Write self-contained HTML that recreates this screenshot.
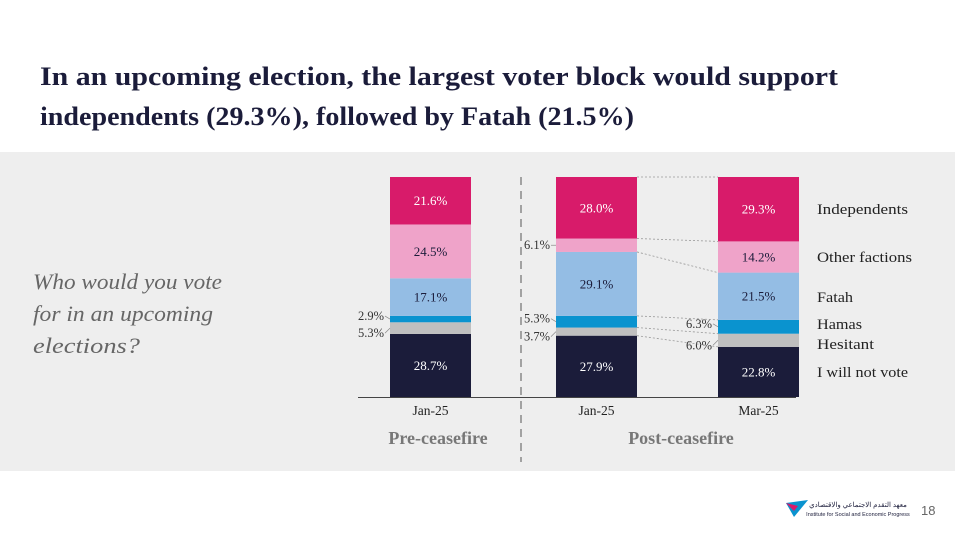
<!DOCTYPE html>
<html><head><meta charset="utf-8"><style>
html,body{margin:0;padding:0;background:#fff;}
svg{display:block;font-family:"Liberation Serif",serif;}
</style></head><body>
<svg width="955" height="537" viewBox="0 0 955 537" xmlns="http://www.w3.org/2000/svg">
<text x="40" y="85" font-size="26" font-weight="bold" fill="#1b1c3a" textLength="798" lengthAdjust="spacingAndGlyphs">In an upcoming election, the largest voter block would support</text>
<text x="40" y="125" font-size="26" font-weight="bold" fill="#1b1c3a" textLength="594" lengthAdjust="spacingAndGlyphs">independents (29.3%), followed by Fatah (21.5%)</text>
<rect x="0" y="152" width="955" height="319" fill="#eeeeee"/>
<g font-style="italic" font-size="22.5" fill="#666">
<text x="33" y="289" textLength="189" lengthAdjust="spacingAndGlyphs">Who would you vote</text>
<text x="33" y="321" textLength="180" lengthAdjust="spacingAndGlyphs">for in an upcoming</text>
<text x="33" y="353" textLength="107" lengthAdjust="spacingAndGlyphs">elections?</text>
</g>
<line x1="521" y1="177" x2="521" y2="462" stroke="#888" stroke-width="1.5" stroke-dasharray="8,6"/>
<g id="bars"></g>
<line x1="358" y1="397.5" x2="796" y2="397.5" stroke="#444" stroke-width="1"/>
<g id="labels"></g>
<text x="438" y="444" text-anchor="middle" font-size="18" font-weight="bold" fill="#777">Pre-ceasefire</text>
<text x="681" y="444" text-anchor="middle" font-size="18" font-weight="bold" fill="#777">Post-ceasefire</text>
<g>
<polygon points="786,503 808,500 794,517" fill="#0a93cf"/>
<polygon points="786,503 798,506 794,511" fill="#d81b6a"/>
<text x="858" y="507" text-anchor="middle" font-size="7" font-family="'Liberation Sans',sans-serif" fill="#1b1c3a">معهد التقدم الاجتماعي والاقتصادي</text>
<text x="858" y="516" text-anchor="middle" font-size="5.5" font-family="'Liberation Sans',sans-serif" fill="#1b1c3a">Institute for Social and Economic Progress</text>
</g>
<text x="921" y="515" font-size="13" font-family="'Liberation Sans',sans-serif" fill="#666">18</text>
</svg>
<script>
const categories = ["Jan-25", "Jan-25", "Mar-25"];
const seriesNames = ["I will not vote", "Hesitant", "Hamas", "Fatah", "Other factions", "Independents"];
const notVote = [28.7, 27.9, 22.8];
const hesitant = [5.3, 3.7, 6.0];
const hamas = [2.9, 5.3, 6.3];
const fatah = [17.1, 29.1, 21.5];
const otherFactions = [24.5, 6.1, 14.2];
const independents = [21.6, 28.0, 29.3];

const series = [notVote, hesitant, hamas, fatah, otherFactions, independents];
const colors = ["#1b1c3a", "#bfbfbf", "#0a93cf", "#94bde4", "#efa3c9", "#d81b6a"];
const textColors = ["#fff", "#333", "#fff", "#1b1c3a", "#1b1c3a", "#fff"];
const barX = [390, 556, 718], barW = 81, base = 397, plotH = 220;
const NS = "http://www.w3.org/2000/svg";
const gB = document.getElementById("bars"), gL = document.getElementById("labels");
function mk(tag, attrs, parent){const e=document.createElementNS(NS,tag);for(const k in attrs)e.setAttribute(k,attrs[k]);parent.appendChild(e);return e;}
function yScale(cum, total){return base - cum/total*plotH;}
const bounds = [];
categories.forEach((c,i)=>{
  const total = series.reduce((s,a)=>s+a[i],0);
  let cum = 0; const b=[];
  series.forEach((arr,j)=>{
    const y0 = yScale(cum,total), y1 = yScale(cum+arr[i],total);
    b.push([y1,y0]);
    const r = mk("rect",{x:barX[i],y:y1,width:barW,height:y0-y1,fill:colors[j]},gB);
    
    
    const mid=(y0+y1)/2;
    if (arr[i] >= 8) {
      const t = mk("text",{x:barX[i]+barW/2,y:mid+4.5,"text-anchor":"middle","font-size":13,fill:textColors[j]},gL);
      t.textContent = arr[i].toFixed(1)+"%";
      
      
    } else {
      const lx = barX[i]-6;
      const dy = (j===1) ? 5 : (j===2 ? -3 : 0);
      const t = mk("text",{x:lx,y:mid+4+dy,"text-anchor":"end","font-size":12.5,fill:"#333"},gL);
      t.textContent = arr[i].toFixed(1)+"%";
      
      
      const ln = mk("line",{x1:lx+1,y1:mid+dy,x2:barX[i],y2:mid,stroke:"#888","stroke-width":0.7},gL);
      
      
    }
    cum += arr[i];
  });
  bounds.push(b);
  const xl = mk("text",{x:barX[i]+barW/2,y:415,"text-anchor":"middle","font-size":13.5,fill:"#222"},gL);
  xl.textContent = c;
  
  
});
series.forEach((arr,j)=>{
  const l = mk("line",{x1:barX[1]+barW,y1:bounds[1][j][0],x2:barX[2],y2:bounds[2][j][0],stroke:"#999","stroke-width":0.8,"stroke-dasharray":"2,2"},gL);
  
  
});
const legendY = [372, 344, 324, 297, 257, 209];
const legendW = [91, 57, 45, 36, 95, 91];
seriesNames.forEach((n,j)=>{
  const t = mk("text",{x:817,y:legendY[j]+5,"font-size":15,fill:"#222",textLength:legendW[j],lengthAdjust:"spacingAndGlyphs"},gL);
  t.textContent = n;
  
  
});
</script>
</body></html>
